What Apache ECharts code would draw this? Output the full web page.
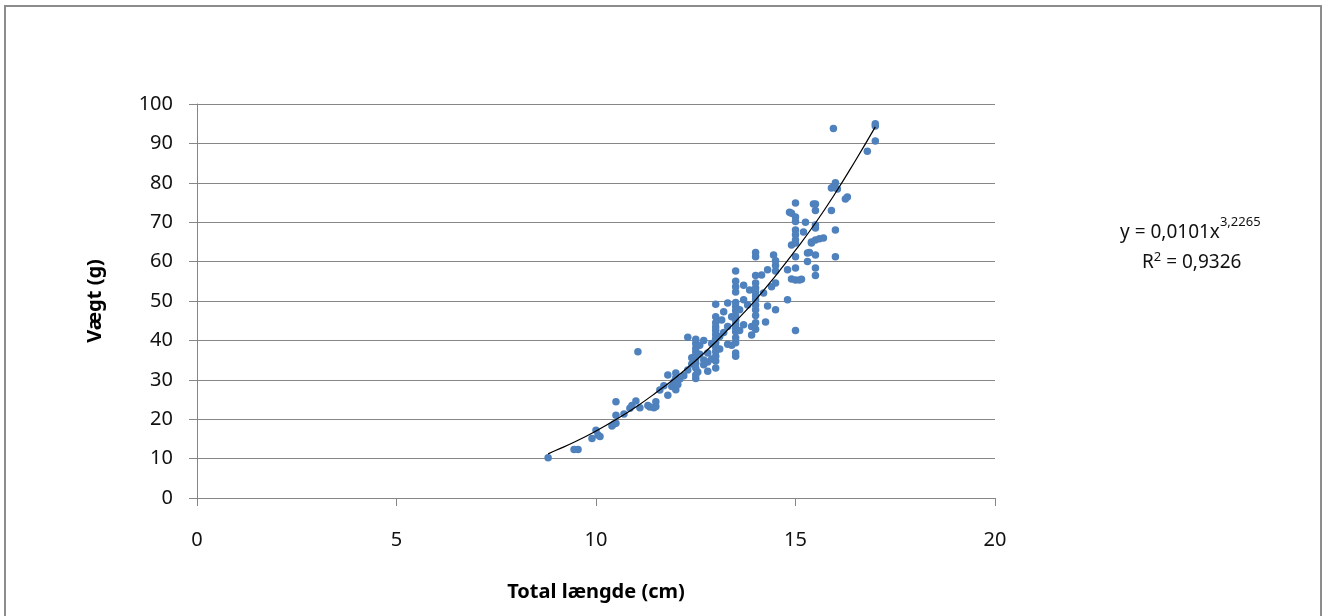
<!DOCTYPE html>
<html>
<head>
<meta charset="utf-8">
<script src="https://cdn.jsdelivr.net/npm/echarts@6/dist/echarts.min.js"></script>
<style>
  html, body { margin: 0; padding: 0; background: #fff; }
  #chart { width: 1329px; height: 616px; }
</style>
</head>
<body>
<div id="chart"></div>
<script>
// total length (cm) and weight (g) of each fish
const lengths = [
  8.8, 9.45, 9.55, 9.9, 10.0, 10.05, 10.1, 10.4, 10.45, 10.5, 10.5, 10.5, 10.7, 10.85, 10.9, 11.0, 11.1, 11.05,
  11.3, 11.35, 11.45, 11.5, 11.5, 11.6, 11.7, 11.8, 11.8, 11.9, 11.95, 12.0, 12.0, 12.0, 12.05, 12.1, 12.2,
  12.3, 12.3, 12.4, 12.4, 12.5, 12.5, 12.5, 12.5, 12.5, 12.5, 12.5, 12.5, 12.5, 12.5, 12.55, 12.6, 12.6,
  12.7, 12.7, 12.7, 12.8, 12.8, 12.8, 12.9, 12.9,
  13.0, 13.0, 13.0, 13.0, 13.0, 13.0, 13.0, 13.0, 13.0, 13.0, 13.0, 13.0, 13.0, 13.1, 13.1, 13.15, 13.2, 13.2,
  13.3, 13.3, 13.3, 13.4, 13.4,
  13.5, 13.5, 13.5, 13.5, 13.5, 13.5, 13.5, 13.5, 13.5, 13.5, 13.5, 13.5, 13.5, 13.5, 13.5, 13.5,
  13.6, 13.6, 13.7, 13.7, 13.7, 13.8, 13.85, 13.9, 13.9,
  14.0, 14.0, 14.0, 14.0, 14.0, 14.0, 14.0, 14.0, 14.0, 14.0, 14.0, 14.0, 14.0,
  14.15, 14.2, 14.25, 14.3, 14.3, 14.4, 14.45, 14.5, 14.5, 14.5, 14.5, 14.5,
  14.8, 14.8, 14.85, 14.9, 14.9, 14.9,
  15.0, 15.0, 15.0, 15.0, 15.0, 15.0, 15.0, 15.0, 15.0, 15.0, 15.0,
  15.1, 15.15, 15.2, 15.25, 15.3, 15.3, 15.35, 15.4, 15.4, 15.45,
  15.5, 15.5, 15.5, 15.5, 15.5, 15.5, 15.5, 15.5, 15.6, 15.7,
  15.9, 15.9, 15.95, 15.95, 16.0, 16.0, 16.0, 16.05, 16.25, 16.3, 16.8, 17.0, 17.0, 17.0
];
const weights = [
  10.2, 12.3, 12.3, 15.1, 17.2, 16.0, 15.6, 18.3, 18.8, 19.0, 21.0, 24.4, 21.3, 22.8, 23.5, 24.6, 22.9, 37.1,
  23.5, 23.1, 22.9, 23.2, 24.4, 27.4, 28.5, 26.1, 31.2, 28.3, 29.5, 27.5, 30.5, 31.7, 28.8, 30.2, 31.0,
  40.8, 32.5, 34.0, 35.6, 30.3, 31.2, 33.0, 34.2, 35.3, 36.2, 37.1, 38.0, 39.2, 40.3, 32.0, 36.5, 38.8,
  33.8, 35.0, 40.0, 32.2, 34.5, 36.8, 35.3, 39.2,
  33.0, 34.8, 36.0, 37.2, 38.3, 39.4, 40.5, 41.5, 42.5, 43.4, 44.5, 46.0, 49.2, 37.8, 41.0, 45.2, 42.0, 47.3,
  39.0, 43.5, 49.5, 38.8, 46.0,
  36.0, 36.8, 39.4, 40.7, 42.2, 43.0, 44.0, 45.1, 46.2, 47.5, 48.6, 49.6, 52.3, 53.6, 55.0, 57.6,
  42.5, 47.8, 44.0, 50.3, 54.0, 49.0, 52.8, 41.4, 43.5,
  42.8, 44.5, 46.3, 47.8, 49.0, 50.3, 51.3, 52.3, 53.3, 54.6, 56.5, 61.2, 62.3,
  56.6, 52.0, 44.7, 48.7, 57.9, 53.6, 61.7, 47.8, 54.6, 57.6, 59.0, 60.2,
  50.3, 57.9, 72.5, 64.2, 55.6, 72.3,
  42.5, 55.3, 58.4, 61.2, 64.7, 65.5, 66.8, 68.0, 70.2, 71.3, 74.9,
  55.3, 55.5, 67.5, 70.0, 60.0, 62.2, 62.3, 64.7, 65.0, 74.6,
  56.5, 58.4, 61.7, 65.5, 68.5, 69.3, 73.0, 74.6, 65.8, 66.0,
  73.0, 78.7, 79.0, 93.8, 80.0, 68.0, 61.2, 78.4, 75.9, 76.4, 88.0, 90.6, 94.4, 95.0
];

// power trend line
const trendX = [8.8, 9, 9.5, 10, 10.5, 11, 11.5, 12, 12.5, 13, 13.5, 14, 14.5, 15, 15.5, 16, 16.5, 17];
const trendY = [11.2, 12.1, 14.4, 17.0, 19.9, 23.1, 26.7, 30.6, 34.9, 39.6, 44.8, 50.3, 56.4, 62.9, 69.8, 77.4, 85.6, 94.2];

const xTicks = [0, 5, 10, 15, 20];
const yTicks = [0, 10, 20, 30, 40, 50, 60, 70, 80, 90, 100];

const chart = echarts.init(document.getElementById('chart'));
const font = '"Noto Sans", "Open Sans", sans-serif';
const gridColor = '#868686';

chart.setOption({
  animation: false,
  textStyle: { fontFamily: font },
  grid: { left: 197, right: 334, top: 104, bottom: 118 },
  xAxis: {
    type: 'value',
    min: xTicks[0],
    max: xTicks[xTicks.length - 1],
    interval: 5,
    name: 'Total længde (cm)',
    nameLocation: 'middle',
    nameGap: 84,
    nameTextStyle: { fontSize: 20, fontWeight: 'bold', color: '#000', fontFamily: font },
    axisLine: { show: true, lineStyle: { color: gridColor, width: 1 } },
    axisTick: { show: true, length: 8, lineStyle: { color: gridColor } },
    axisLabel: { color: '#111', fontSize: 20, margin: 32, fontFamily: font },
    splitLine: { show: false }
  },
  yAxis: {
    type: 'value',
    min: yTicks[0],
    max: yTicks[yTicks.length - 1],
    interval: 10,
    name: 'Vægt (g)',
    nameLocation: 'middle',
    nameGap: 92,
    nameTextStyle: { fontSize: 20, fontWeight: 'bold', color: '#000', fontFamily: font },
    axisLine: { show: true, lineStyle: { color: gridColor, width: 1 } },
    axisTick: { show: true, length: 8, lineStyle: { color: gridColor } },
    axisLabel: { color: '#111', fontSize: 20, margin: 24, fontFamily: font },
    splitLine: { show: true, lineStyle: { color: gridColor, width: 1 } }
  },
  series: [
    {
      type: 'scatter',
      data: lengths.map((l, i) => [l, weights[i]]),
      symbolSize: 7.5,
      itemStyle: { color: '#4F81BD', opacity: 1 }
    },
    {
      type: 'line',
      data: trendX.map((x, i) => [x, trendY[i]]),
      smooth: true,
      showSymbol: false,
      lineStyle: { color: '#000', width: 1.2 },
      z: 3
    }
  ],
  graphic: [
    {
      type: 'rect',
      shape: { x: 5, y: 6, width: 1316, height: 640 },
      style: { fill: 'none', stroke: '#8c8c8c', lineWidth: 2 },
      silent: true
    },
    {
      type: 'text',
      left: 1120,
      top: 216,
      style: {
        text: '{a|y = 0,0101x}{s|3,2265}',
        rich: {
          a: { fontSize: 19, fontFamily: font, fill: '#111', verticalAlign: 'bottom', lineHeight: 26 },
          s: { fontSize: 13, fontFamily: font, fill: '#111', verticalAlign: 'top', padding: [0, 0, 12, 0] }
        }
      }
    },
    {
      type: 'text',
      left: 1142,
      top: 251,
      style: {
        text: '{a|R}{s|2}{a| = 0,9326}',
        rich: {
          a: { fontSize: 19, fontFamily: font, fill: '#111', lineHeight: 26 },
          s: { fontSize: 13, fontFamily: font, fill: '#111', padding: [0, 0, 10, 0] }
        }
      }
    }
  ]
});
</script>
</body>
</html>
